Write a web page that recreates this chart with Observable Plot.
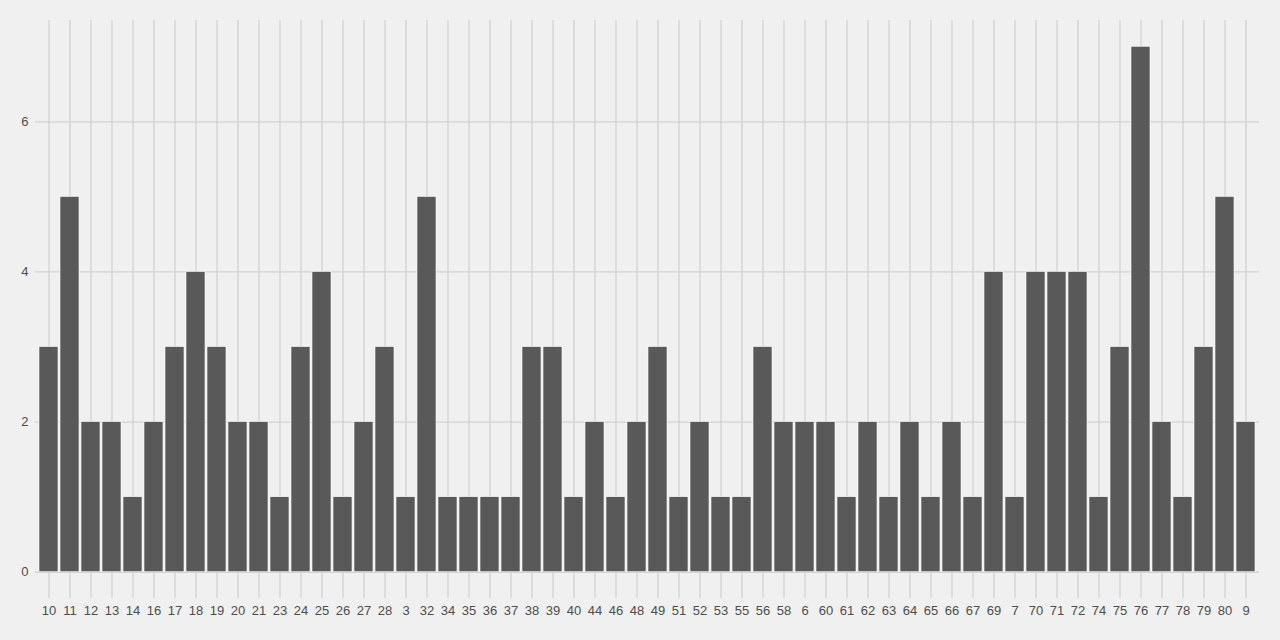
<!DOCTYPE html>
<html>
<head>
<meta charset="utf-8">
<script src="https://cdn.jsdelivr.net/npm/d3@7"></script>
<script src="https://cdn.jsdelivr.net/npm/@observablehq/plot@0.6"></script>
<style>
  html, body { margin: 0; padding: 0; background: #f0f0f0; }
  #chart svg { display: block; }
</style>
</head>
<body>
<div id="chart"></div>
<script>
const categories = ["10","11","12","13","14","16","17","18","19","20","21","23","24","25","26","27","28","3","32","34","35","36","37","38","39","40","44","46","48","49","51","52","53","55","56","58","6","60","61","62","63","64","65","66","67","69","7","70","71","72","74","75","76","77","78","79","80","9"];
const counts = [3,5,2,2,1,2,3,4,3,2,2,1,3,4,1,2,3,1,5,1,1,1,1,3,3,1,2,1,2,3,1,2,1,1,3,2,2,2,1,2,1,2,1,2,1,4,1,4,4,4,1,3,7,2,1,3,5,2];
const yTicks = [0, 2, 4, 6];

const data = categories.map((c, i) => ({cat: c, n: counts[i]}));

const chart = Plot.plot({
  width: 1280,
  height: 640,
  marginLeft: 35,
  marginRight: 21,
  marginTop: 20,
  marginBottom: 42,
  style: {background: "#f0f0f0", fontFamily: "'Liberation Sans', Arial, sans-serif", fontSize: "13px", color: "#4d4d4d"},
  x: {type: "band", domain: categories, paddingInner: 0.1, paddingOuter: 0.15, label: null},
  y: {domain: [-0.35, 7.35], label: null},
  marks: [
    Plot.gridX({stroke: "#d2d2d2", strokeOpacity: 1, strokeWidth: 1.3}),
    Plot.gridY(yTicks, {stroke: "#d2d2d2", strokeOpacity: 1, strokeWidth: 1.3}),
    Plot.barY(data, {x: "cat", y: "n", fill: "#595959", stroke: "#ffffff", strokeWidth: 0.6}),
    Plot.axisX({tickSize: 0, tickPadding: 7, label: null, fill: "#4d4d4d", fontSize: 13}),
    Plot.axisY(yTicks, {tickSize: 0, tickPadding: 7, label: null, fill: "#4d4d4d", fontSize: 13, tickFormat: "d"})
  ]
});
document.getElementById("chart").appendChild(chart);
</script>
</body>
</html>
